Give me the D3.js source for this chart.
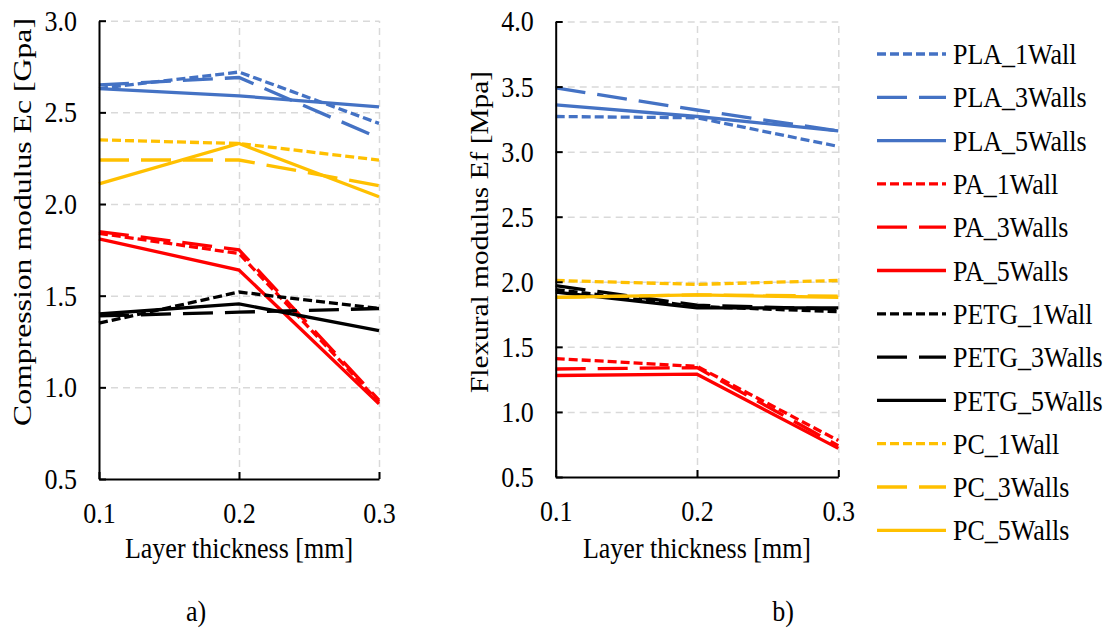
<!DOCTYPE html>
<html>
<head>
<meta charset="utf-8">
<script src="https://cdn.jsdelivr.net/npm/d3@7"></script>
<style>
  body { margin: 0; background: #fff; }
  text { font-family: "Liberation Serif", "Times New Roman", serif; fill: #000; }
  text.stretch { transform-box: fill-box; transform-origin: center; transform: scaleY(1.13); }
</style>
</head>
<body>
<svg id="chart" width="1115" height="631"></svg>
<script>
// layer thickness categories (x values)
const layerThickness = [0.1, 0.2, 0.3]

const seriesNames = [
  'PLA_1Wall', 'PLA_3Walls', 'PLA_5Walls',
  'PA_1Wall', 'PA_3Walls', 'PA_5Walls',
  'PETG_1Wall', 'PETG_3Walls', 'PETG_5Walls',
  'PC_1Wall', 'PC_3Walls', 'PC_5Walls'
]

// compression modulus Ec [Gpa], one row per series
const compressionEc = [
  [2.63, 2.72, 2.44],
  [2.65, 2.69, 2.36],
  [2.63, 2.59, 2.53],
  [1.84, 1.73, 0.92],
  [1.85, 1.75, 0.93],
  [1.81, 1.64, 0.91],
  [1.35, 1.52, 1.43],
  [1.39, 1.41, 1.43],
  [1.40, 1.455, 1.31],
  [2.35, 2.33, 2.24],
  [2.24, 2.24, 2.10],
  [2.11, 2.33, 2.04]
]

// flexural modulus Ef [Mpa], one row per series
const flexuralEf = [
  [3.27, 3.26, 3.04],
  [3.49, 3.32, 3.16],
  [3.36, 3.27, 3.16],
  [1.41, 1.35, 0.78],
  [1.33, 1.34, 0.74],
  [1.28, 1.29, 0.72],
  [1.94, 1.81, 1.77],
  [1.97, 1.82, 1.79],
  [1.92, 1.80, 1.80],
  [2.01, 1.98, 2.01],
  [1.88, 1.90, 1.89],
  [1.88, 1.90, 1.88]
]

const ecTicks = [0.5, 1.0, 1.5, 2.0, 2.5, 3.0]
const efTicks = [0.5, 1.0, 1.5, 2.0, 2.5, 3.0, 3.5, 4.0]

const materialColor = { PLA: '#4472C4', PA: '#FF0000', PETG: '#000000', PC: '#FFC000' }
const dashFor = name => name.includes('_1Wall') ? '9,4' : name.includes('_3Walls') ? '30,12' : null
const colorFor = name => materialColor[name.split('_')[0]]

const svg = d3.select('#chart')

/**
 * Draws one panel: grid, lines, axes and titles.
 */
function drawPanel (opts) {
  const { left, top, width, height, values, ticks, yTitle, yTitleX, yTitleY, yTitleStretch, label, labelX } = opts
  const g = svg.append('g').attr('transform', `translate(${left},${top})`)

  const xScale = d3.scaleLinear().domain([0.1, 0.3]).range([0, width])
  const yScale = d3.scaleLinear().domain([ticks[0], ticks[ticks.length - 1]]).range([height, 0])

  // grid
  g.append('g')
    .call(d3.axisLeft(yScale).tickValues(ticks.slice(1)).tickSize(-width).tickFormat(''))
    .call(a => a.select('.domain').remove())
    .selectAll('line')
    .attr('stroke', '#D9D9D9').attr('stroke-width', 1.5).attr('stroke-dasharray', '7,5')
  g.append('g')
    .attr('transform', `translate(0,${height})`)
    .call(d3.axisBottom(xScale).tickValues([0.2, 0.3]).tickSize(-height).tickFormat(''))
    .call(a => a.select('.domain').remove())
    .selectAll('line')
    .attr('stroke', '#D9D9D9').attr('stroke-width', 1.5).attr('stroke-dasharray', '7,5')

  // lines
  const line = d3.line()
    .x((d, i) => xScale(layerThickness[i]))
    .y(d => yScale(d))

  values.forEach((row, i) => {
    const name = seriesNames[i]
    g.append('path')
      .datum(row)
      .attr('fill', 'none')
      .attr('stroke', colorFor(name))
      .attr('stroke-width', 3.3)
      .attr('stroke-dasharray', dashFor(name))
      .attr('d', line)
  })

  // axes
  const yAxis = g.append('g')
    .call(d3.axisLeft(yScale).tickValues(ticks).tickSize(-7).tickSizeOuter(0).tickPadding(22).tickFormat(d3.format('.1f')))
  const xAxis = g.append('g')
    .attr('transform', `translate(0,${height})`)
    .call(d3.axisBottom(xScale).tickValues(layerThickness).tickSize(-7).tickSizeOuter(0).tickPadding(24).tickFormat(d3.format('.1f')))
  ;[yAxis, xAxis].forEach(a => {
    a.selectAll('path, line').attr('stroke', '#000').attr('stroke-width', 2)
    a.selectAll('text').attr('class', 'stretch').style('font-size', '26px').attr('fill', '#000')
  })
  xAxis.selectAll('text').attr('dy', '0.71em')

  // titles
  g.append('text')
    .attr('class', 'stretch')
    .attr('x', width / 2).attr('y', 557 - top)
    .attr('text-anchor', 'middle')
    .style('font-size', '26px')
    .text('Layer thickness [mm]')
  svg.append('text')
    .attr('transform', `translate(${yTitleX},${yTitleY}) scale(1,${yTitleStretch}) rotate(-90)`)
    .attr('text-anchor', 'middle')
    .style('font-size', '26px')
    .text(yTitle)
  svg.append('text')
    .attr('class', 'stretch')
    .attr('x', labelX).attr('y', 620)
    .attr('text-anchor', 'middle')
    .style('font-size', '26px')
    .text(label)
}

drawPanel({
  left: 99, top: 20.7, width: 280, height: 458.3,
  values: compressionEc, ticks: ecTicks,
  yTitle: 'Compression modulus Ec [Gpa]', yTitleX: 31, yTitleY: 222, yTitleStretch: 1.22,
  label: 'a)', labelX: 196
})

drawPanel({
  left: 555.7, top: 21.5, width: 282.6, height: 455.5,
  values: flexuralEf, ticks: efTicks,
  yTitle: 'Flexural modulus Ef [Mpa]', yTitleX: 488, yTitleY: 232, yTitleStretch: 1.13,
  label: 'b)', labelX: 783
})

// legend
const legend = svg.append('g')
seriesNames.forEach((name, i) => {
  const y = 54 + i * 43.3
  legend.append('line')
    .attr('x1', 877).attr('x2', 946).attr('y1', y).attr('y2', y)
    .attr('stroke', colorFor(name))
    .attr('stroke-width', 3.3)
    .attr('stroke-dasharray', dashFor(name))
  legend.append('text')
    .attr('class', 'stretch')
    .attr('x', 953).attr('y', y + 9)
    .style('font-size', '26px')
    .text(name)
})
</script>
</body>
</html>
